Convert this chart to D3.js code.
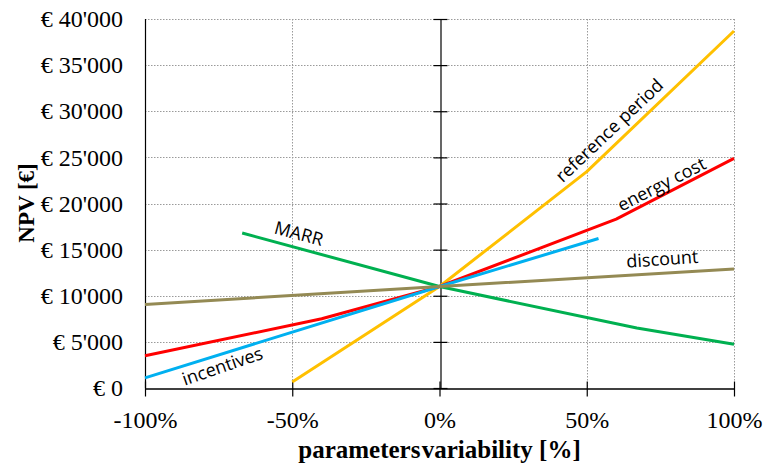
<!DOCTYPE html>
<html>
<head>
<meta charset="utf-8">
<script src="https://cdn.jsdelivr.net/npm/d3@7"></script>
<style>
  html, body { margin: 0; padding: 0; background: #fff; }
  svg { display: block; }
</style>
</head>
<body>
<svg id="chart" width="767" height="468"></svg>
<script>
// Sensitivity of NPV to each parameter's variation (x: fraction of variation, y: NPV in €)
const referencePeriod = [[-0.5, 650], [0, 11000], [0.5, 23450], [1.0, 38700]];
const energyCost      = [[-1.0, 3500], [-0.4, 7500], [0, 11000], [0.6, 18300], [1.0, 24900]];
const incentives      = [[-1.0, 1100], [0, 11000], [0.54, 16200]];
const marr            = [[-0.67, 16800], [0, 11000], [0.67, 6500], [1.0, 4750]];
const discount        = [[-1.0, 9050], [0, 11000], [1.0, 12900]];

const seriesNames  = ["reference period", "energy cost", "incentives", "MARR", "discount"];
const seriesColors = ["#FFC000", "#FF0000", "#00B0F0", "#00B050", "#948A54"];
const seriesData   = [referencePeriod, energyCost, incentives, marr, discount];

const yTicks = [0, 5000, 10000, 15000, 20000, 25000, 30000, 35000, 40000];
const xTicks = [-1.0, -0.5, 0, 0.5, 1.0];

const serif = "'Liberation Serif', 'Times New Roman', serif";
const sans = "'Open Sans', sans-serif";

const svg = d3.select("#chart");
const plotLeft = 145, plotRight = 734, plotTop = 19, plotBottom = 388;

const x = d3.scaleLinear().domain([-1, 1]).range([plotLeft, plotRight]);
const y = d3.scaleLinear().domain([0, 40000]).range([plotBottom, plotTop]);

const locale = d3.formatLocale({ decimal: ".", thousands: "'", grouping: [3], currency: ["€ ", ""] });
const fmtEuro = locale.format("$,.0f");
const fmtPct = d3.format(".0%");

// dotted gridlines
const grid = svg.append("g").attr("stroke", "#9a9a9a").attr("stroke-width", 1).attr("stroke-dasharray", "1.5,1.5");
grid.selectAll("line.h").data(yTicks.filter(d => d > 0)).join("line")
  .attr("x1", plotLeft).attr("x2", plotRight)
  .attr("y1", d => Math.round(y(d)) + 0.5).attr("y2", d => Math.round(y(d)) + 0.5);
grid.selectAll("line.v").data(xTicks.filter(d => d !== 0 && d !== -1)).join("line")
  .attr("y1", plotTop).attr("y2", plotBottom)
  .attr("x1", d => Math.round(x(d)) + 0.5).attr("x2", d => Math.round(x(d)) + 0.5);

// left border line
svg.append("line").attr("x1", plotLeft + 0.5).attr("x2", plotLeft + 0.5).attr("y1", plotTop).attr("y2", plotBottom)
  .attr("stroke", "#000").attr("stroke-width", 1.2);

// y tick labels on the left
const yAxis = svg.append("g").attr("transform", `translate(${plotLeft},0)`)
  .call(d3.axisLeft(y).tickValues(yTicks).tickSize(0).tickPadding(22).tickFormat(fmtEuro));
yAxis.select(".domain").remove();
yAxis.attr("font-family", null).attr("font-size", null);
yAxis.selectAll("text").style("font-family", serif).style("font-size", "24px").attr("fill", "#000");

// vertical axis through 0% with crossing ticks
const zeroAxis = svg.append("g").attr("transform", `translate(${Math.round(x(0)) + 0.5},0)`)
  .call(d3.axisRight(y).tickValues(yTicks).tickSizeInner(0).tickSizeOuter(0).tickFormat(""));
zeroAxis.select(".domain").attr("stroke", "#000").attr("stroke-width", 1.2);
zeroAxis.selectAll(".tick line").attr("x1", -7).attr("x2", 7).attr("stroke", "#000").attr("stroke-width", 1.2);

// bottom axis with crossing ticks
const xAxis = svg.append("g").attr("transform", `translate(0,${plotBottom + 0.5})`)
  .call(d3.axisBottom(x).tickValues(xTicks).tickSizeInner(0).tickSizeOuter(0).tickPadding(22).tickFormat(fmtPct));
xAxis.attr("font-family", null).attr("font-size", null);
xAxis.select(".domain").attr("stroke", "#000").attr("stroke-width", 1.5);
xAxis.selectAll(".tick line").attr("y1", -7).attr("y2", 8).attr("stroke", "#000").attr("stroke-width", 1.2);
xAxis.selectAll("text").style("font-family", serif).style("font-size", "24px").attr("fill", "#000")
  .text(d => (d < 0 ? "-" : "") + fmtPct(Math.abs(d)));

// series lines
const line = d3.line().x(d => x(d[0])).y(d => y(d[1]));
svg.append("g").selectAll("path").data(seriesData).join("path")
  .attr("d", line)
  .attr("fill", "none")
  .attr("stroke", (d, i) => seriesColors[i])
  .attr("stroke-width", 3)
  .attr("stroke-linejoin", "round");

// series labels placed alongside their lines
const labelSpecs = [
  { name: "reference period", at: 0.61, dy: -8, angle: -43.5 },
  { name: "energy cost",      at: 0.77, dy: -4, angle: -27 },
  { name: "incentives",       at: -0.75, dy: 18, angle: -19 },
  { name: "MARR",             at: -0.49, dy: -8, angle: 15 },
  { name: "discount",         at: 0.76, dy: -8, angle: -4 }
];
function valueAt(data, xv) {
  for (let i = 0; i < data.length - 1; i++) {
    const a = data[i], b = data[i + 1];
    if (xv >= a[0] && xv <= b[0]) return a[1] + (b[1] - a[1]) * (xv - a[0]) / (b[0] - a[0]);
  }
  return data[data.length - 1][1];
}
svg.append("g").selectAll("text").data(labelSpecs).join("text")
  .style("font-family", sans).style("font-size", "18px").attr("fill", "#000")
  .attr("text-anchor", "middle")
  .attr("transform", d => {
    const data = seriesData[seriesNames.indexOf(d.name)];
    const px = x(d.at), py = y(valueAt(data, d.at));
    return `translate(${px},${py}) rotate(${d.angle}) translate(0,${d.dy})`;
  })
  .text(d => d.name);

// axis titles
const xTitle = svg.append("text").attr("text-anchor", "middle")
  .style("font-family", serif).style("font-size", "25px").style("font-weight", "bold")
  .attr("x", (plotLeft + plotRight) / 2).attr("y", 458);
xTitle.append("tspan").text("parameters");
xTitle.append("tspan").attr("dx", -5).text(" variability [%]");
svg.append("text").attr("text-anchor", "middle")
  .style("font-family", serif).style("font-size", "23px").style("font-weight", "bold")
  .attr("transform", `translate(34,203) rotate(-90)`).text("NPV [€]");
</script>
</body>
</html>
